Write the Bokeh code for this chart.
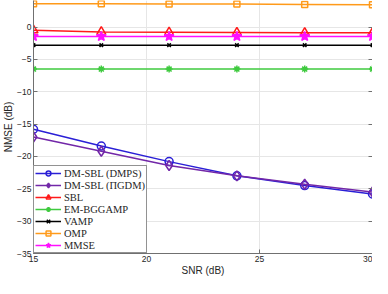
from bokeh.plotting import figure
from bokeh.models import Range1d, LinearAxis, FixedTicker, Legend, LegendItem
from bokeh.embed import file_html
from bokeh.resources import INLINE

snr = [15, 18, 21, 24, 27, 30]
dmps = [-15.8, -18.4, -20.8, -23.0, -24.5, -25.8]
pigdm = [-17.0, -19.2, -21.4, -23.0, -24.3, -25.5]
sbl = [-0.5, -0.75, -0.8, -0.85, -0.9, -0.9]
em_bggamp = [-6.5, -6.5, -6.5, -6.5, -6.5, -6.5]
vamp = [-2.8, -2.8, -2.8, -2.8, -2.8, -2.8]
omp = [3.6, 3.6, 3.55, 3.55, 3.5, 3.45]
mmse = [-1.45, -1.45, -1.45, -1.45, -1.45, -1.45]

x_ticks = [15, 20, 25, 30]
y_ticks = [-35, -30, -25, -20, -15, -10, -5, 0]

p = figure(width=372, height=278, output_backend="svg", toolbar_location=None,
           x_range=Range1d(15, 30), y_range=Range1d(-35, 4.1),
           min_border_left=0, min_border_right=0, min_border_top=0, min_border_bottom=0)
p.outline_line_color = None
p.background_fill_color = "white"
p.border_fill_color = "white"

axis_col = "#707070"
for ax in (p.xaxis[0], p.yaxis[0]):
    ax.major_tick_in = 4
    ax.major_tick_out = 0
    ax.minor_tick_line_color = None
    ax.axis_line_color = axis_col
    ax.major_tick_line_color = axis_col
    ax.major_label_text_font = "Liberation Sans"
    ax.major_label_text_font_size = "8.5px"
    ax.major_label_text_color = "#262626"
    ax.axis_label_text_font = "Liberation Sans"
    ax.axis_label_text_font_size = "10px"
    ax.axis_label_text_font_style = "normal"
    ax.axis_label_text_color = "#262626"

p.xaxis.ticker = FixedTicker(ticks=x_ticks)
p.yaxis.ticker = FixedTicker(ticks=y_ticks)
p.xaxis.axis_label = "SNR (dB)"
p.yaxis.axis_label = "NMSE (dB)"
p.xaxis.major_label_standoff = 2
p.xaxis.axis_label_standoff = 0
p.yaxis.major_label_standoff = 2
p.yaxis.axis_label_standoff = 0

rax = LinearAxis(ticker=FixedTicker(ticks=y_ticks), major_tick_in=4, major_tick_out=0,
                 minor_tick_line_color=None, axis_line_color=axis_col,
                 major_tick_line_color=axis_col, major_label_standoff=0,
                 major_label_text_font_size="1px",
                 major_label_overrides={t: "" for t in y_ticks})
p.add_layout(rax, "right")

p.xgrid.grid_line_color = "#e6e6e6"
p.ygrid.grid_line_color = "#e6e6e6"
p.xgrid.ticker = FixedTicker(ticks=x_ticks)
p.ygrid.ticker = FixedTicker(ticks=y_ticks)

items = []
def series(y, color, marker, label, size=9, fill=None):
    l = p.line(snr, y, line_color=color, line_width=1.5)
    m = p.scatter(snr, y, marker=marker, size=size, line_color=color, line_width=1.5,
                  fill_color=fill, fill_alpha=1 if fill else 0)
    items.append(LegendItem(label=label, renderers=[l, m]))

series(dmps, "#2a1fd6", "circle", "DM-SBL (DMPS)", size=8)
series(pigdm, "#7227a8", "diamond", "DM-SBL (\u03a0GDM)", size=10)
series(sbl, "#ff1a1a", "triangle", "SBL", size=9)
series(em_bggamp, "#3fca3f", "asterisk", "EM-BGGAMP", size=7)
series(vamp, "#000000", "x", "VAMP", size=5)
series(omp, "#ff9a1a", "square", "OMP", size=6)
series(mmse, "#ff10ff", "star", "MMSE", size=10, fill="#ff10ff")

legend = Legend(items=items, location="bottom_left",
                label_text_font="Liberation Serif", label_text_font_size="10.5px",
                label_text_color="#262626",
                glyph_width=26, glyph_height=12, label_height=12,
                label_standoff=3, spacing=0, padding=1, margin=0,
                border_line_color="#262626", border_line_width=1,
                background_fill_color="white", background_fill_alpha=1)
p.add_layout(legend, "center")

open("out.html", "w").write(file_html(p, INLINE))
